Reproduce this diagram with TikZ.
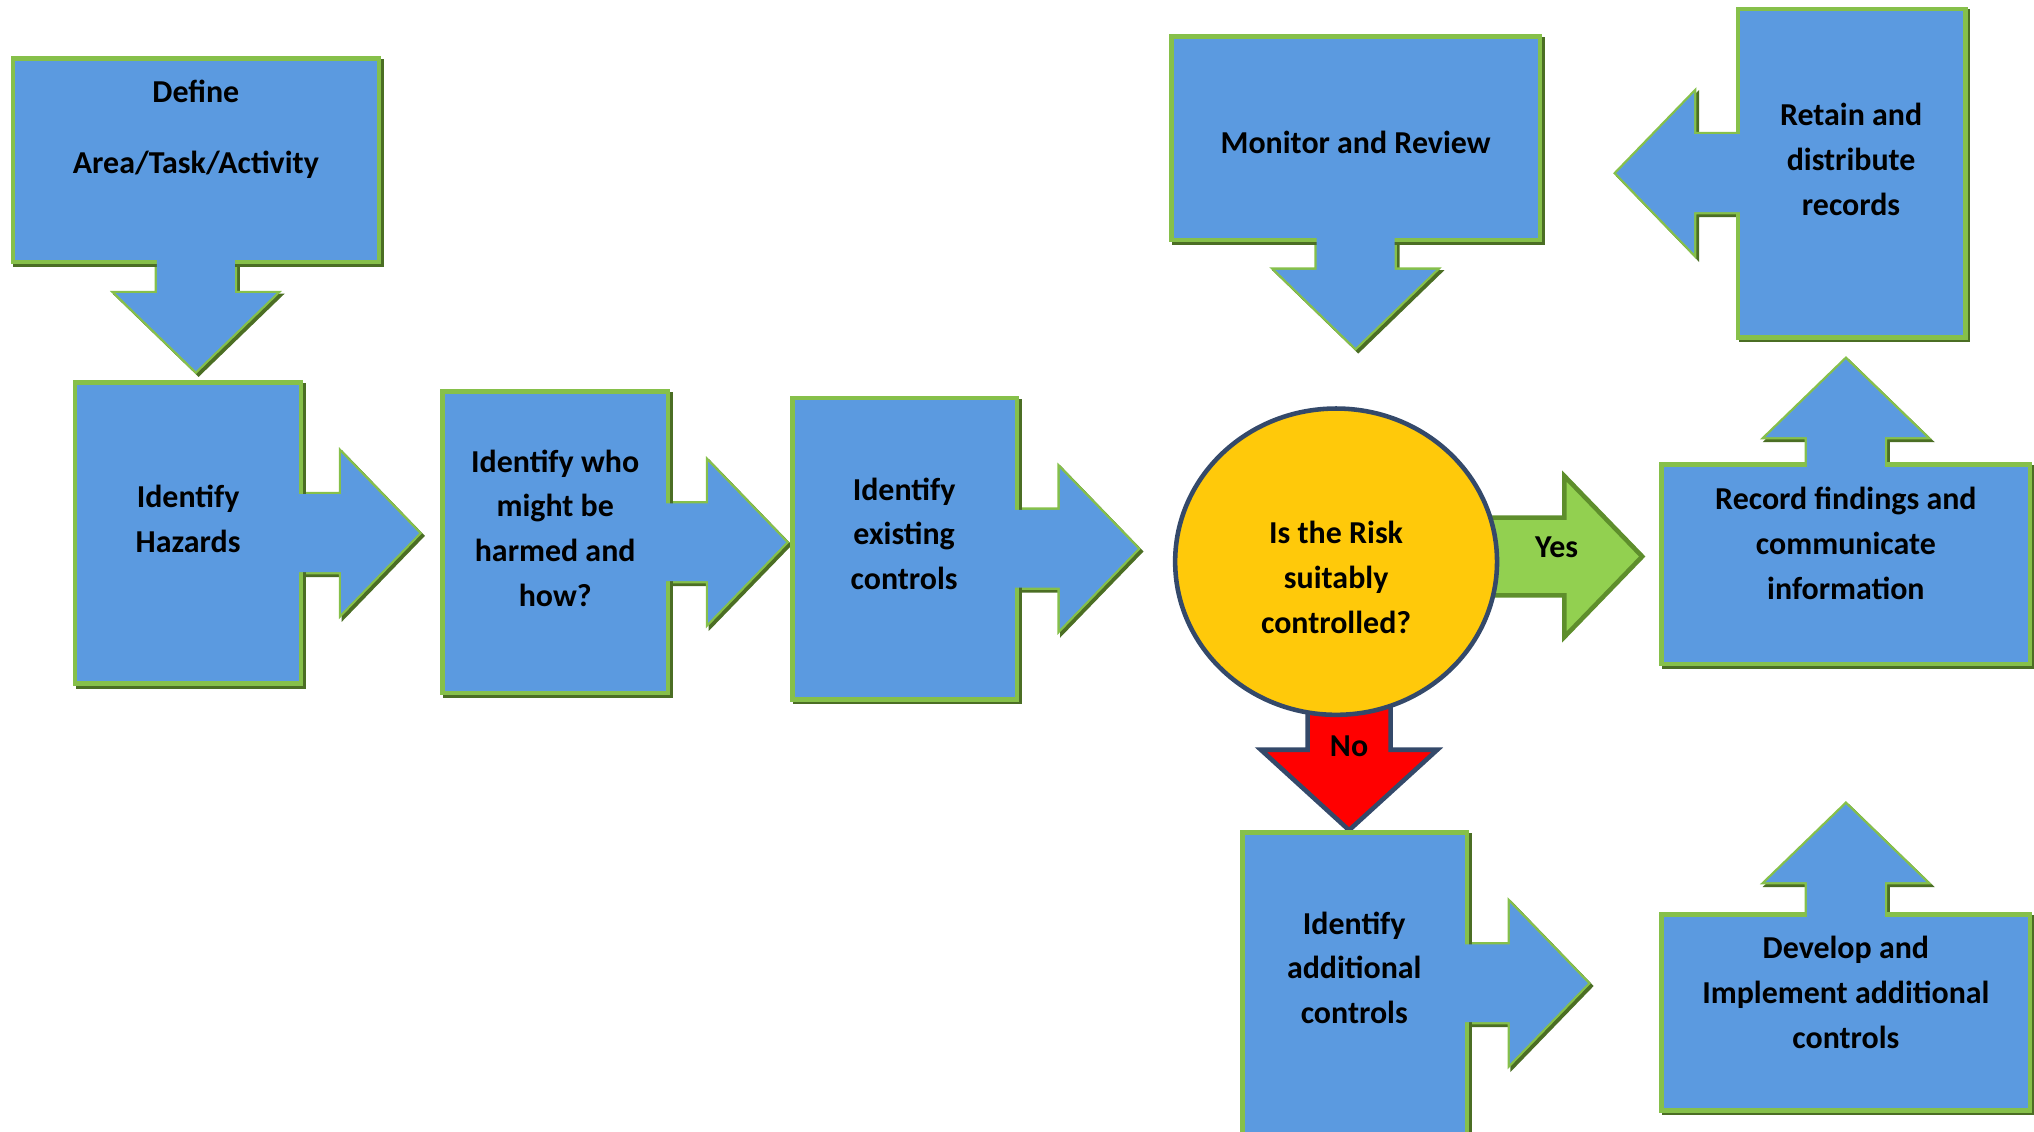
\documentclass[tikz,border=0pt]{standalone}
\usepackage{fontspec}
\setmainfont{Carlito}
\usetikzlibrary{calc, backgrounds, shapes.geometric}

\definecolor{boxblue}{HTML}{5B9AE0}
\definecolor{boxgreen}{HTML}{86C04A}
\definecolor{boxshade}{HTML}{4B6E24}
\definecolor{edgenavy}{HTML}{34496A}
\definecolor{riskgold}{HTML}{FFC90A}
\definecolor{yesgreen}{HTML}{92D050}
\definecolor{yesedge}{HTML}{5E8E2C}
\definecolor{nored}{HTML}{FF0000}

\newcommand{\shaftw}{0.3cm}
\newcommand{\headw}{0.62cm}
\newcommand{\headl}{0.6cm}

\tikzset{
    shade edge/.style={preaction={draw=#1, line width=1pt, transform canvas={shift={(0.6pt,-0.6pt)}}}},
    box/.style={draw=boxgreen, fill=boxblue, line width=1pt, inner sep=0pt, shade edge=boxshade},
    txt/.style={font=\bfseries\fontsize{7}{9.8}\selectfont, align=center, inner sep=0pt},
    blockarrow/.style={to path={
        let \p1=(\tikztostart), \p2=(\tikztotarget),
            \n1={atan2(\y2-\y1,\x2-\x1)} in
        ($(\p1)+(\n1+180:2pt)+(\n1+90:\shaftw)$)
        -- ($(\p2)+(\n1+180:\headl)+(\n1+90:\shaftw)$)
        -- ($(\p2)+(\n1+180:\headl)+(\n1+90:\headw)$)
        -- (\p2)
        -- ($(\p2)+(\n1+180:\headl)+(\n1-90:\headw)$)
        -- ($(\p2)+(\n1+180:\headl)+(\n1-90:\shaftw)$)
        -- ($(\p1)+(\n1+180:2pt)+(\n1-90:\shaftw)$)
        -- cycle}},
    arrowline/.style={blockarrow, draw=boxgreen, fill=boxblue, line width=1pt, shade edge=boxshade},
    arrowbody/.style={blockarrow, fill=boxblue},
    bighead/.code={\renewcommand{\headw}{0.68cm}\renewcommand{\headl}{0.62cm}\renewcommand{\shaftw}{0.32cm}},
}

\begin{document}
\begin{tikzpicture}[x=0.01cm, y=0.01cm]
    \useasboundingbox (0,0) rectangle (1568,872);

    % process boxes
    \node[box, minimum width=2.82cm, minimum height=1.57cm] (def) at (151,748.5) {};
    \node[box, minimum width=1.74cm, minimum height=2.32cm] (haz) at (145,461) {};
    \node[box, minimum width=1.74cm, minimum height=2.32cm] (who) at (428,454) {};
    \node[box, minimum width=1.73cm, minimum height=2.32cm] (exist) at (697.5,449) {};
    \node[box, minimum width=1.73cm, minimum height=2.32cm] (addl) at (1044.5,114) {};
    \node[box, minimum width=2.84cm, minimum height=1.51cm] (dev) at (1423,91.5) {};
    \node[box, minimum width=2.84cm, minimum height=1.54cm] (rec) at (1423,437) {};
    \node[box, minimum width=1.75cm, minimum height=2.53cm] (ret) at (1427.5,738.5) {};
    \node[box, minimum width=2.84cm, minimum height=1.57cm] (mon) at (1045,765.5) {};

    % decision
    \node[ellipse, draw=edgenavy, fill=riskgold, line width=1pt,
          minimum width=2.48cm, minimum height=2.36cm] (risk) at (1030,439) {};

    % arrow tips
    \coordinate (defTip) at (151,586);
    \coordinate (hazTip) at (323,461);
    \coordinate (whoTip) at (606,454);
    \coordinate (existTip) at (877,449);
    \coordinate (addlTip) at (1224,114);
    \coordinate (devTip) at (1423,252);
    \coordinate (recTip) at (1423,595);
    \coordinate (retTip) at (1246,738.5);
    \coordinate (monTip) at (1045,604);
    \coordinate (yesTip) at (1266,443);
    \coordinate (noTip) at (1040,232);

    \begin{scope}[on background layer]
        \draw[arrowline] (def.south) to (defTip);
        \draw[arrowline] (haz.east) to (hazTip);
        \draw[arrowline] (who.east) to (whoTip);
        \draw[arrowline] (exist.east) to (existTip);
        \draw[arrowline] (addl.east) to (addlTip);
        \draw[arrowline] (dev.north) to (devTip);
        \draw[arrowline] (rec.north) to (recTip);
        \draw[arrowline] (ret.west) to (retTip);
        \draw[arrowline] (mon.south) to (monTip);
        \draw[blockarrow, draw=yesedge, fill=yesgreen, line width=1pt]
            ([yshift=0.04cm]risk.center) to (yesTip);
        \draw[blockarrow, bighead, draw=edgenavy, fill=nored, line width=1pt]
            ([xshift=0.1cm]risk.center) to (noTip);
    \end{scope}

    % join arrows to their boxes
    \fill[arrowbody] (def.south) to (defTip);
    \fill[arrowbody] (haz.east) to (hazTip);
    \fill[arrowbody] (who.east) to (whoTip);
    \fill[arrowbody] (exist.east) to (existTip);
    \fill[arrowbody] (addl.east) to (addlTip);
    \fill[arrowbody] (dev.north) to (devTip);
    \fill[arrowbody] (rec.north) to (recTip);
    \fill[arrowbody] (ret.west) to (retTip);
    \fill[arrowbody] (mon.south) to (monTip);

    % labels
    \node[txt] (defText) at (151,772.5) {Define\\[0.2cm]Area/Task/Activity};
    \node[txt] (hazText) at (145,472) {Identify\\Hazards};
    \node[txt] (whoText) at (428,465) {Identify who\\might be\\harmed and\\how?};
    \node[txt] (existText) at (697,460.5) {Identify\\existing\\controls};
    \node[txt] (riskText) at (1030,427) {Is the Risk\\suitably\\controlled?};
    \node[txt] (monText) at (1045,762) {Monitor and Review};
    \node[txt] (retText) at (1427,749) {Retain and\\distribute\\records};
    \node[txt] (recText) at (1423,453) {Record findings and\\communicate\\information};
    \node[txt] (addlText) at (1044,126) {Identify\\additional\\controls};
    \node[txt] (devText) at (1423,107) {Develop and\\Implement additional\\controls};
    \node[txt] (yesText) at (1200,450) {Yes};
    \node[txt] (noText) at (1040,297) {No};
\end{tikzpicture}
\end{document}
